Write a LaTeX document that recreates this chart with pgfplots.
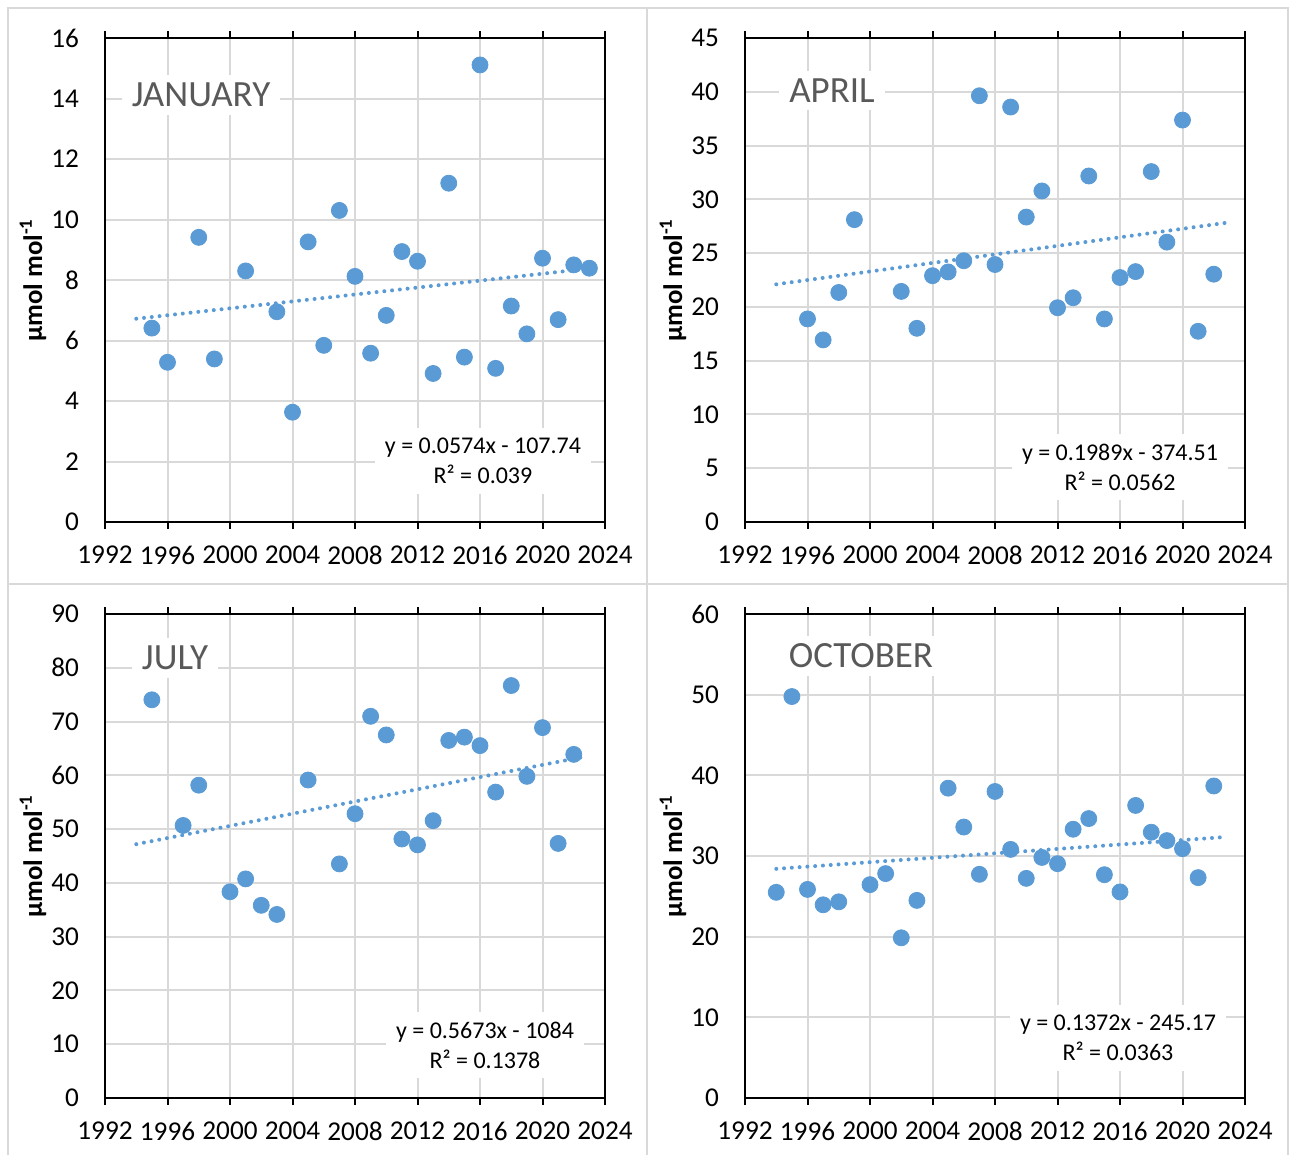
\documentclass[border=0pt]{standalone}
\usepackage{pgfplots}
\pgfplotsset{compat=1.18}
\usepackage{fontspec}
\setmainfont{Carlito}

\definecolor{ptblue}{HTML}{5B9BD5}
\definecolor{gridgray}{HTML}{D9D9D9}
\definecolor{titlegray}{HTML}{595959}

\newcommand{\tickfont}{\fontsize{13.6}{15}\selectfont}
\newcommand{\eqfont}{\fontsize{12}{15}\selectfont}
\newcommand{\ttlfont}{\fontsize{18.5}{20}\selectfont}

\pgfplotsset{
  panel/.style={
    scale only axis, width=250pt, height=242pt, anchor=north west,
    xmin=1992, xmax=2024, xtick={1992,1996,...,2024}, ymin=0,
    axis line style={line width=1.25pt, black},
    grid=major, grid style={gridgray, line width=1pt},
    tick align=outside, major tick length=3.5pt,
    xtick style={black, line width=1pt},
    ytick style={draw=none},
    xticklabel style={font=\tickfont, yshift=-5pt},
    yticklabel style={font=\tickfont, xshift=-6pt},
    /pgf/number format/assume math mode=true,
    /pgf/number format/1000 sep={},
    ylabel={\bfseries µmol mol\textsuperscript{-1}},
    ylabel style={at={(axis description cs:-0.144,0.5)}, anchor=center, font=\fontsize{13.4}{15}\selectfont},
  },
  pts/.style={only marks, mark=*, mark size=4pt, mark options={fill=ptblue, draw=ptblue}},
  trend/.style={ptblue, line width=2pt, dash pattern=on 0pt off 3.9pt, line cap=round},
}

\begin{document}
\begin{tikzpicture}
\fill[white] (0,0) rectangle (646.5pt,-577.5pt);
% chart area borders
\draw[gridgray, line width=1pt] (4pt,-577.5pt) -- (4pt,-4pt) -- (644pt,-4pt) -- (644pt,-577.5pt);
\draw[gridgray, line width=1pt] (323.5pt,-4pt) -- (323.5pt,-577.5pt);
\draw[gridgray, line width=1pt] (4pt,-292pt) -- (644pt,-292pt);

% JANUARY
\begin{axis}[panel, at={(52.5pt,-19pt)}, ymax=16, ytick={0,2,...,16}]
\addplot[pts] coordinates {
(1995,6.41) (1996,5.28) (1998,9.41) (1999,5.39) (2001,8.30) (2003,6.95)
(2004,3.63) (2005,9.26) (2006,5.84) (2007,10.30) (2008,8.12) (2009,5.58)
(2010,6.83) (2011,8.94) (2012,8.62) (2013,4.91) (2014,11.20) (2015,5.45)
(2016,15.11) (2017,5.08) (2018,7.14) (2019,6.22) (2020,8.72) (2021,6.69)
(2022,8.50) (2023,8.39)};
\addplot[trend] coordinates {(1994,6.72) (2023,8.38)};
\end{axis}

% APRIL
\begin{axis}[panel, at={(372.5pt,-19pt)}, ymax=45, ytick={0,5,...,45}]
\addplot[pts] coordinates {
(1996,18.88) (1997,16.93) (1998,21.34) (1999,28.11) (2002,21.44) (2003,18.01)
(2004,22.90) (2005,23.25) (2006,24.29) (2007,39.63) (2008,23.94) (2009,38.58)
(2010,28.35) (2011,30.78) (2012,19.92) (2013,20.85) (2014,32.17) (2015,18.88)
(2016,22.73) (2017,23.28) (2018,32.58) (2019,26.02) (2020,37.37) (2021,17.73)
(2022,23.04)};
\addplot[trend] coordinates {(1994,22.10) (2022.7,27.80)};
\end{axis}

% JULY
\begin{axis}[panel, at={(52.5pt,-307pt)}, ymax=90, ytick={0,10,...,90}]
\addplot[pts] coordinates {
(1995,74.05) (1997,50.68) (1998,58.17) (2000,38.35) (2001,40.74) (2002,35.83)
(2003,34.13) (2005,59.13) (2007,43.53) (2008,52.86) (2009,70.98) (2010,67.51)
(2011,48.16) (2012,47.07) (2013,51.57) (2014,66.49) (2015,67.10) (2016,65.53)
(2017,56.88) (2018,76.70) (2019,59.81) (2020,68.87) (2021,47.34) (2022,63.90)};
\addplot[trend] coordinates {(1994,47.20) (2022.8,63.53)};
\end{axis}

% OCTOBER
\begin{axis}[panel, at={(372.5pt,-307pt)}, ymax=60, ytick={0,10,...,60}]
\addplot[pts] coordinates {
(1994,25.50) (1995,49.77) (1996,25.86) (1997,23.95) (1998,24.32) (2000,26.45)
(2001,27.82) (2002,19.86) (2003,24.50) (2005,38.41) (2006,33.59) (2007,27.73)
(2008,38.00) (2009,30.82) (2010,27.23) (2011,29.82) (2012,29.05) (2013,33.32)
(2014,34.64) (2015,27.68) (2016,25.55) (2017,36.27) (2018,32.95) (2019,31.91)
(2020,30.91) (2021,27.32) (2022,38.68)};
\addplot[trend] coordinates {(1994,28.41) (2022.8,32.36)};
\end{axis}

% titles
\node[fill=white, inner xsep=5pt, inner ysep=4pt, text=titlegray, font=\ttlfont] at (100.5pt,-47.5pt) {JANUARY};
\node[fill=white, inner xsep=5pt, inner ysep=4pt, text=titlegray, font=\ttlfont] at (416pt,-45.3pt) {APRIL};
\node[fill=white, inner xsep=5pt, inner ysep=4pt, text=titlegray, font=\ttlfont] at (87.5pt,-329pt) {JULY};
\node[fill=white, inner xsep=5pt, inner ysep=4pt, text=titlegray, font=\ttlfont] at (430.5pt,-328pt) {OCTOBER};

% trend equations
\node[fill=white, inner sep=5pt, align=center, font=\eqfont] at (241.5pt,-230.5pt) {y = 0.0574x - 107.74\\R² = 0.039};
\node[fill=white, inner sep=5pt, align=center, font=\eqfont] at (560pt,-233.5pt) {y = 0.1989x - 374.51\\R² = 0.0562};
\node[fill=white, inner sep=5pt, align=center, font=\eqfont] at (242.5pt,-522.5pt) {y = 0.5673x - 1084\\R² = 0.1378};
\node[fill=white, inner sep=5pt, align=center, font=\eqfont] at (559pt,-519pt) {y = 0.1372x - 245.17\\R² = 0.0363};
\end{tikzpicture}
\end{document}
